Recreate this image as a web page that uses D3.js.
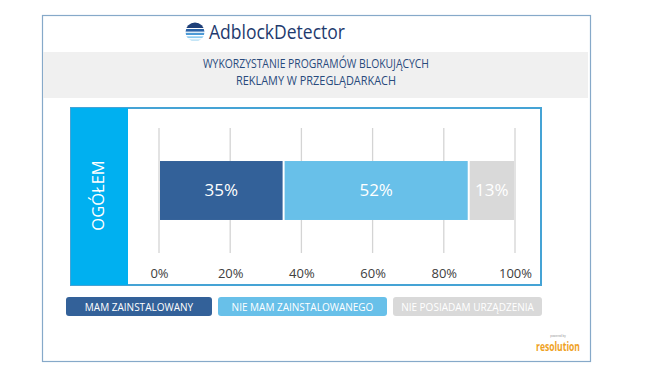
<!DOCTYPE html>
<html><head><meta charset="utf-8">
<script src="https://cdn.jsdelivr.net/npm/d3@7"></script>
<style>
html,body{margin:0;padding:0;background:#fff;}
svg{display:block;}
</style></head>
<body>
<svg id="c" width="653" height="368"></svg>
<script>
// ---- data ----
const categories = ["OGÓŁEM"];
const seriesNames = ["MAM ZAINSTALOWANY", "NIE MAM ZAINSTALOWANEGO", "NIE POSIADAM URZĄDZENIA"];
const seriesValues = [35, 52, 13];
const seriesColors = ["#336199", "#68c0e9", "#d9d9d9"];
const tickValues = [0, 20, 40, 60, 80, 100];
const titleLines = ["WYKORZYSTANIE PROGRAMÓW BLOKUJĄCYCH", "REKLAMY W PRZEGLĄDARKACH"];

const svg = d3.select("#c");

// outer frame
svg.append("rect").attr("x", 42.5).attr("y", 15.5).attr("width", 548).attr("height", 346)
  .attr("fill", "#fff").attr("stroke", "#86a9c9").attr("stroke-width", 1.2);

// header logo: striped sphere icon
const defs = svg.append("defs");
defs.append("clipPath").attr("id", "ball").append("circle").attr("cx", 195).attr("cy", 32).attr("r", 9.5);
const icon = svg.append("g").attr("clip-path", "url(#ball)");
const stripes = [[22, 6, "#1e3f78"], [29, 2.6, "#2a63a8"], [32.8, 2.2, "#4d9ad6"], [36.3, 1.8, "#8ccaf0"], [39.3, 1.6, "#bfe3f6"]];
stripes.forEach(([yy, h, col]) => {
  icon.append("rect").attr("x", 184).attr("y", yy).attr("width", 22).attr("height", h).attr("fill", col);
});
svg.append("text").attr("x", 209).attr("y", 39).attr("font-family", "'Open Sans', sans-serif")
  .attr("font-size", 20).attr("fill", "#1e3a6e").attr("textLength", 136).attr("lengthAdjust", "spacingAndGlyphs")
  .text("AdblockDetector");

// grey title band
svg.append("rect").attr("x", 43).attr("y", 52).attr("width", 545).attr("height", 46).attr("fill", "#f0f0f0");
svg.selectAll("text.title").data(titleLines).join("text").attr("class", "title")
  .attr("x", 316).attr("y", (d, i) => 68 + i * 17)
  .attr("text-anchor", "middle")
  .attr("font-family", "'Liberation Sans Narrow', 'Open Sans', sans-serif")
  .attr("font-size", 12.5).attr("fill", "#284a7c")
  .attr("textLength", (d, i) => i === 0 ? 226 : 160).attr("lengthAdjust", "spacingAndGlyphs")
  .text(d => d);

// chart panel
const panel = { x: 71, y: 108, w: 470, h: 177 };
svg.append("rect").attr("x", panel.x).attr("y", panel.y).attr("width", panel.w).attr("height", panel.h)
  .attr("fill", "#fff").attr("stroke", "#45a3d5").attr("stroke-width", 2);
svg.append("rect").attr("x", panel.x).attr("y", panel.y).attr("width", 57).attr("height", panel.h)
  .attr("fill", "#00b0f0");

const x = d3.scaleLinear().domain([0, 100]).range([159, 515]);
const y = d3.scaleBand().domain(categories).range([128, 253]).paddingInner(0).paddingOuter(0.56);

// gridlines
svg.append("g").selectAll("line").data(tickValues).join("line")
  .attr("x1", d => x(d)).attr("x2", d => x(d)).attr("y1", 128).attr("y2", 253)
  .attr("stroke", "#d4d4d4").attr("stroke-width", 1.3);

// axis labels via d3 axis
const axis = svg.append("g").attr("transform", "translate(0,266)")
  .call(d3.axisBottom(x).tickValues(tickValues).tickFormat(d => d + "%").tickSize(0));
axis.select(".domain").remove();
axis.selectAll("text").attr("font-family", "'Open Sans', sans-serif").attr("font-size", 13)
  .attr("fill", "#404040").attr("dy", "0.71em");

// stacked bar
const row = { cat: categories[0] };
seriesNames.forEach((s, i) => row[s] = seriesValues[i]);
const stack = d3.stack().keys(seriesNames)([row]);
const segs = svg.append("g").selectAll("g").data(stack).join("g");
segs.append("rect")
  .attr("x", d => x(d[0][0]) + 1)
  .attr("width", d => x(d[0][1]) - x(d[0][0]) - 2)
  .attr("y", y(categories[0])).attr("height", y.bandwidth())
  .attr("fill", (d, i) => seriesColors[i]);
segs.append("text")
  .attr("x", d => (x(d[0][0]) + x(d[0][1])) / 2)
  .attr("y", y(categories[0]) + y.bandwidth() / 2)
  .attr("dy", "0.35em").attr("text-anchor", "middle")
  .attr("font-family", "'Open Sans', sans-serif").attr("font-size", 17).attr("fill", "#fff")
  .text((d, i) => seriesValues[i] + "%");

// category label
svg.append("text").attr("transform", `translate(104,${y(categories[0]) + y.bandwidth() / 2 + 5}) rotate(-90)`)
  .attr("text-anchor", "middle").attr("font-family", "'Open Sans', sans-serif")
  .attr("font-size", 16.5).attr("fill", "#fff").text(categories[0]);

// legend
const legendBoxes = [[66, 146], [218, 169], [393, 149]];
const lg = svg.append("g").selectAll("g").data(seriesNames).join("g");
lg.append("rect").attr("x", (d, i) => legendBoxes[i][0]).attr("y", 297)
  .attr("width", (d, i) => legendBoxes[i][1]).attr("height", 19).attr("rx", 3)
  .attr("fill", (d, i) => seriesColors[i]);
lg.append("text").attr("x", (d, i) => legendBoxes[i][0] + legendBoxes[i][1] / 2).attr("y", 307)
  .attr("dy", "0.35em").attr("text-anchor", "middle")
  .attr("font-family", "'Open Sans', sans-serif").attr("font-size", 10).attr("font-weight", 500)
  .attr("fill", "#fff").text(d => d);

// resolution logo
svg.append("text").attr("x", 558).attr("y", 337).attr("text-anchor", "middle")
  .attr("font-family", "sans-serif").attr("font-size", 3).attr("fill", "#999").text("powered by");
svg.append("text").attr("x", 558).attr("y", 351).attr("text-anchor", "middle")
  .attr("font-family", "'Open Sans', sans-serif").attr("font-weight", "bold")
  .attr("font-size", 12).attr("fill", "#efa21f")
  .attr("textLength", 44).attr("lengthAdjust", "spacingAndGlyphs").text("resolution");
</script>
</body></html>
